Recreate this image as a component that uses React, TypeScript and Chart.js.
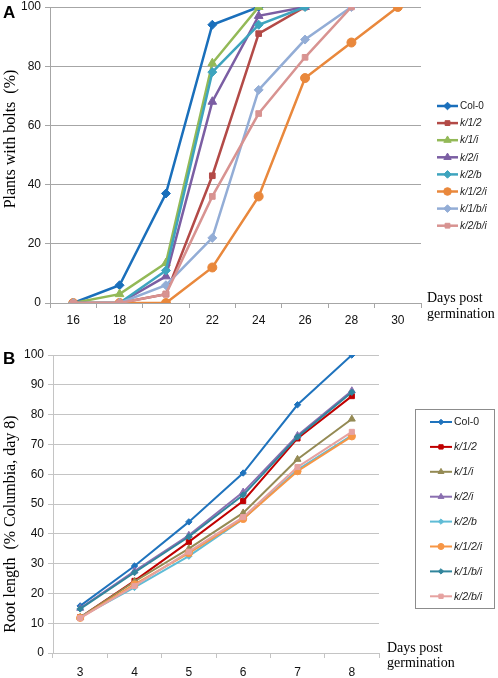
import React, { useEffect, useRef } from 'react';
import { Chart, registerables } from 'chart.js';
import { drawPoint } from 'chart.js/helpers';

Chart.register(...registerables);

// ---------- shared ----------
const seriesNames = ['Col-0', 'k/1/2', 'k/1/i', 'k/2/i', 'k/2/b', 'k/1/2/i', 'k/1/b/i', 'k/2/b/i'];

// ---------- Panel A: plants with bolts ----------
const daysA = ['16', '18', '20', '22', '24', '26', '28', '30'];
const colA = [0, 6, 37, 94, 100, null, null, null];
const k12A = [0, 0, 3, 43, 91, 100, null, null];
const k1iA = [0, 3, 13.5, 81, 100, null, null, null];
const k2iA = [0, 0, 9, 68, 97, 100, null, null];
const k2bA = [0, 0, 11, 78, 94, 100, null, null];
const k12iA = [0, 0, 0, 12, 36, 76, 88, 100];
const k1biA = [0, 0, 6, 22, 72, 89, 100, null];
const k2biA = [0, 0, 3, 36, 64, 83, 100, null];
const yMaxA = 100;
const yStepA = 20;

// ---------- Panel B: root length ----------
const daysB = ['3', '4', '5', '6', '7', '8'];
const colB = [15.8, 29.2, 44, 60.4, 83.3, 100];
const k12B = [12, 24.2, 37.3, 51, 72, 86.2];
const k1iB = [12, 24, 35, 47, 65, 78.5];
const k2iB = [15, 27.5, 39.5, 54, 73, 88];
const k2bB = [12, 22, 32.5, 45, 61.5, 73];
const k12iB = [11.8, 23, 33.5, 45, 61, 72.7];
const k1biB = [14.8, 27, 39, 53, 72.5, 87.5];
const k2biB = [11.7, 22.5, 34, 45.6, 62.4, 74.2];
const yMaxB = 100;
const yStepB = 10;

const stylesA = [
  { color: '#1a6fbb', point: 'rectRot', r: 4.5 },
  { color: '#b34a47', point: 'rect', r: 4 },
  { color: '#93b957', point: 'triangle', r: 5 },
  { color: '#7b5ea3', point: 'triangle', r: 5 },
  { color: '#3ea4be', point: 'rectRot', r: 4.5 },
  { color: '#e9883c', point: 'circle', r: 4.5 },
  { color: '#93add6', point: 'rectRot', r: 4.5 },
  { color: '#d89391', point: 'rect', r: 4 },
];

const stylesB = [
  { color: '#1f73bd', point: 'rectRot', r: 3.2 },
  { color: '#c00000', point: 'rect', r: 3.6 },
  { color: '#948a54', point: 'triangle', r: 4 },
  { color: '#8a6fb0', point: 'triangle', r: 4 },
  { color: '#5fbcd6', point: 'rectRot', r: 3.2 },
  { color: '#f79646', point: 'circle', r: 3.6 },
  { color: '#31859c', point: 'rectRot', r: 3.2 },
  { color: '#e6a2a0', point: 'rect', r: 3.6 },
];

type Overlay = {
  letter: string;
  letterX: number;
  letterY: number;
  yTitle: string;
  yTitleX: number;
  yTitleY: number;
  xTitle: string[];
  xTitleX: number;
  xTitleY: number[];
  legendLineX1: number;
  legendLineX2: number;
  legendTextX: number;
  legendTop: number;
  legendStep: number;
  legendFont: number;
  legendBox: null | { x: number; y: number; w: number; h: number };
  lineWidth: number;
};

function overlayPlugin(o: Overlay) {
  return {
    id: 'overlay',
    afterDraw(chart: any) {
      const ctx: CanvasRenderingContext2D = chart.ctx;
      ctx.save();
      // panel letter
      ctx.fillStyle = '#000';
      ctx.textAlign = 'left';
      ctx.textBaseline = 'alphabetic';
      ctx.font = 'bold 17px "Liberation Sans"';
      ctx.fillText(o.letter, o.letterX, o.letterY);

      // x title
      ctx.font = '14px "Liberation Serif"';
      o.xTitle.forEach((t, i) => ctx.fillText(t, o.xTitleX, o.xTitleY[i]));

      // y title
      ctx.save();
      ctx.font = '16px "Liberation Serif"';
      ctx.translate(o.yTitleX, o.yTitleY);
      ctx.rotate(-Math.PI / 2);
      ctx.textAlign = 'center';
      ctx.fillText(o.yTitle, 0, 0);
      ctx.restore();

      // legend box
      if (o.legendBox) {
        ctx.strokeStyle = '#8c8c8c';
        ctx.lineWidth = 1;
        ctx.strokeRect(o.legendBox.x + 0.5, o.legendBox.y + 0.5, o.legendBox.w, o.legendBox.h);
      }

      // legend entries
      chart.data.datasets.forEach((ds: any, i: number) => {
        const y = o.legendTop + i * o.legendStep;
        ctx.strokeStyle = ds.borderColor;
        ctx.lineWidth = o.lineWidth;
        ctx.beginPath();
        ctx.moveTo(o.legendLineX1, y);
        ctx.lineTo(o.legendLineX2, y);
        ctx.stroke();
        ctx.fillStyle = ds.pointBackgroundColor;
        ctx.strokeStyle = ds.pointBorderColor;
        ctx.lineWidth = 1;
        drawPoint(
          ctx,
          { pointStyle: ds.pointStyle, radius: ds.pointRadius * 0.85, rotation: 0, borderWidth: 1 },
          (o.legendLineX1 + o.legendLineX2) / 2,
          y
        );
        ctx.fillStyle = '#222';
        ctx.textAlign = 'left';
        ctx.textBaseline = 'middle';
        const italic = ds.label !== 'Col-0';
        ctx.font = `${italic ? 'italic ' : ''}${o.legendFont}px "Liberation Sans"`;
        ctx.fillText(ds.label, o.legendTextX, y + 0.5);
      });
      ctx.restore();
    },
  };
}

function buildDatasets(values: (number | null)[][], styles: any[], lw: number) {
  const n = values.length;
  return values.map((v, i) => ({
    label: seriesNames[i],
    data: v,
    borderColor: styles[i].color,
    backgroundColor: styles[i].color,
    pointBackgroundColor: styles[i].color,
    pointBorderColor: styles[i].color,
    pointStyle: styles[i].point,
    pointRadius: styles[i].r,
    pointBorderWidth: 1,
    borderWidth: lw,
    tension: 0,
    spanGaps: false,
    order: n - i,
  }));
}

function makeConfig(opts: {
  labels: string[];
  datasets: any[];
  yMax: number;
  yStep: number;
  gridColor: string;
  yWidth: number;
  xHeight: number;
  padding: any;
  xTickPad: number;
  overlay: Overlay;
}) {
  return {
    type: 'line' as const,
    data: { labels: opts.labels, datasets: opts.datasets },
    options: {
      responsive: false,
      animation: false as const,
      devicePixelRatio: 1,
      layout: { padding: opts.padding },
      plugins: { legend: { display: false }, tooltip: { enabled: false }, title: { display: false } },
      scales: {
        x: {
          type: 'category' as const,
          offset: true,
          grid: {
            display: true,
            drawOnChartArea: false,
            drawTicks: true,
            tickLength: 5,
            offset: true,
            color: opts.gridColor,
          },
          border: { display: true, color: opts.gridColor },
          ticks: {
            color: '#111',
            font: { family: '"Liberation Sans"', size: 12 },
            padding: opts.xTickPad,
            maxRotation: 0,
            autoSkip: false,
          },
          afterFit: (s: any) => {
            s.height = opts.xHeight;
            s.paddingLeft = 0;
            s.paddingRight = 0;
          },
        },
        y: {
          min: 0,
          max: opts.yMax,
          grid: { color: opts.gridColor, tickLength: 5, drawTicks: true },
          border: { display: true, color: opts.gridColor },
          ticks: {
            stepSize: opts.yStep,
            color: '#111',
            font: { family: '"Liberation Sans"', size: 12 },
            padding: 4,
          },
          afterFit: (s: any) => {
            s.width = opts.yWidth;
            s.paddingTop = 0;
            s.paddingBottom = 0;
          },
        },
      },
    },
    plugins: [overlayPlugin(opts.overlay)],
  };
}

function ChartCanvas({ config, width, height, top }: { config: () => any; width: number; height: number; top: number }) {
  const ref = useRef<HTMLCanvasElement | null>(null);
  useEffect(() => {
    if (!ref.current) return;
    const chart = new Chart(ref.current, config());
    return () => chart.destroy();
  }, []);
  return (
    <div style={{ position: 'absolute', left: 0, top, width, height }}>
      <canvas ref={ref} width={width} height={height} style={{ display: 'block', width, height }} />
    </div>
  );
}

const configA = () =>
  makeConfig({
    labels: daysA,
    datasets: buildDatasets([colA, k12A, k1iA, k2iA, k2bA, k12iA, k1biA, k2biA], stylesA, 2.5),
    yMax: yMaxA,
    yStep: yStepA,
    gridColor: '#a6a6a6',
    yWidth: 50,
    xHeight: 32,
    padding: { top: 7, right: 77, bottom: 0, left: 0 },
    xTickPad: 5,
    overlay: {
      letter: 'A',
      letterX: 3,
      letterY: 18,
      yTitle: 'Plants with bolts  (%)',
      yTitleX: 15,
      yTitleY: 139,
      xTitle: ['Days post', 'germination'],
      xTitleX: 427,
      xTitleY: [302, 318],
      legendLineX1: 437,
      legendLineX2: 458,
      legendTextX: 460,
      legendTop: 106,
      legendStep: 17.1,
      legendFont: 10,
      legendBox: null,
      lineWidth: 2.5,
    },
  });

const configB = () =>
  makeConfig({
    labels: daysB,
    datasets: buildDatasets([colB, k12B, k1iB, k2iB, k2bB, k12iB, k1biB, k2biB], stylesB, 2),
    yMax: yMaxB,
    yStep: yStepB,
    gridColor: '#c4c4c4',
    yWidth: 53,
    xHeight: 25,
    padding: { top: 20, right: 119, bottom: 0, left: 0 },
    xTickPad: 7,
    overlay: {
      letter: 'B',
      letterX: 3,
      letterY: 29,
      yTitle: 'Root length  (% Columbia, day 8)',
      yTitleX: 15,
      yTitleY: 189,
      xTitle: ['Days post', 'germination'],
      xTitleX: 387,
      xTitleY: [317, 332],
      legendLineX1: 430,
      legendLineX2: 452,
      legendTextX: 454,
      legendTop: 87,
      legendStep: 24.9,
      legendFont: 10.5,
      legendBox: { x: 415, y: 74, w: 79, h: 199 },
      lineWidth: 2,
    },
  });

export default function App() {
  return (
    <div style={{ position: 'absolute', left: 0, top: 0, width: 498, height: 678, background: '#fff' }}>
      <ChartCanvas config={configA} width={498} height={335} top={0} />
      <ChartCanvas config={configB} width={498} height={343} top={335} />
    </div>
  );
}
